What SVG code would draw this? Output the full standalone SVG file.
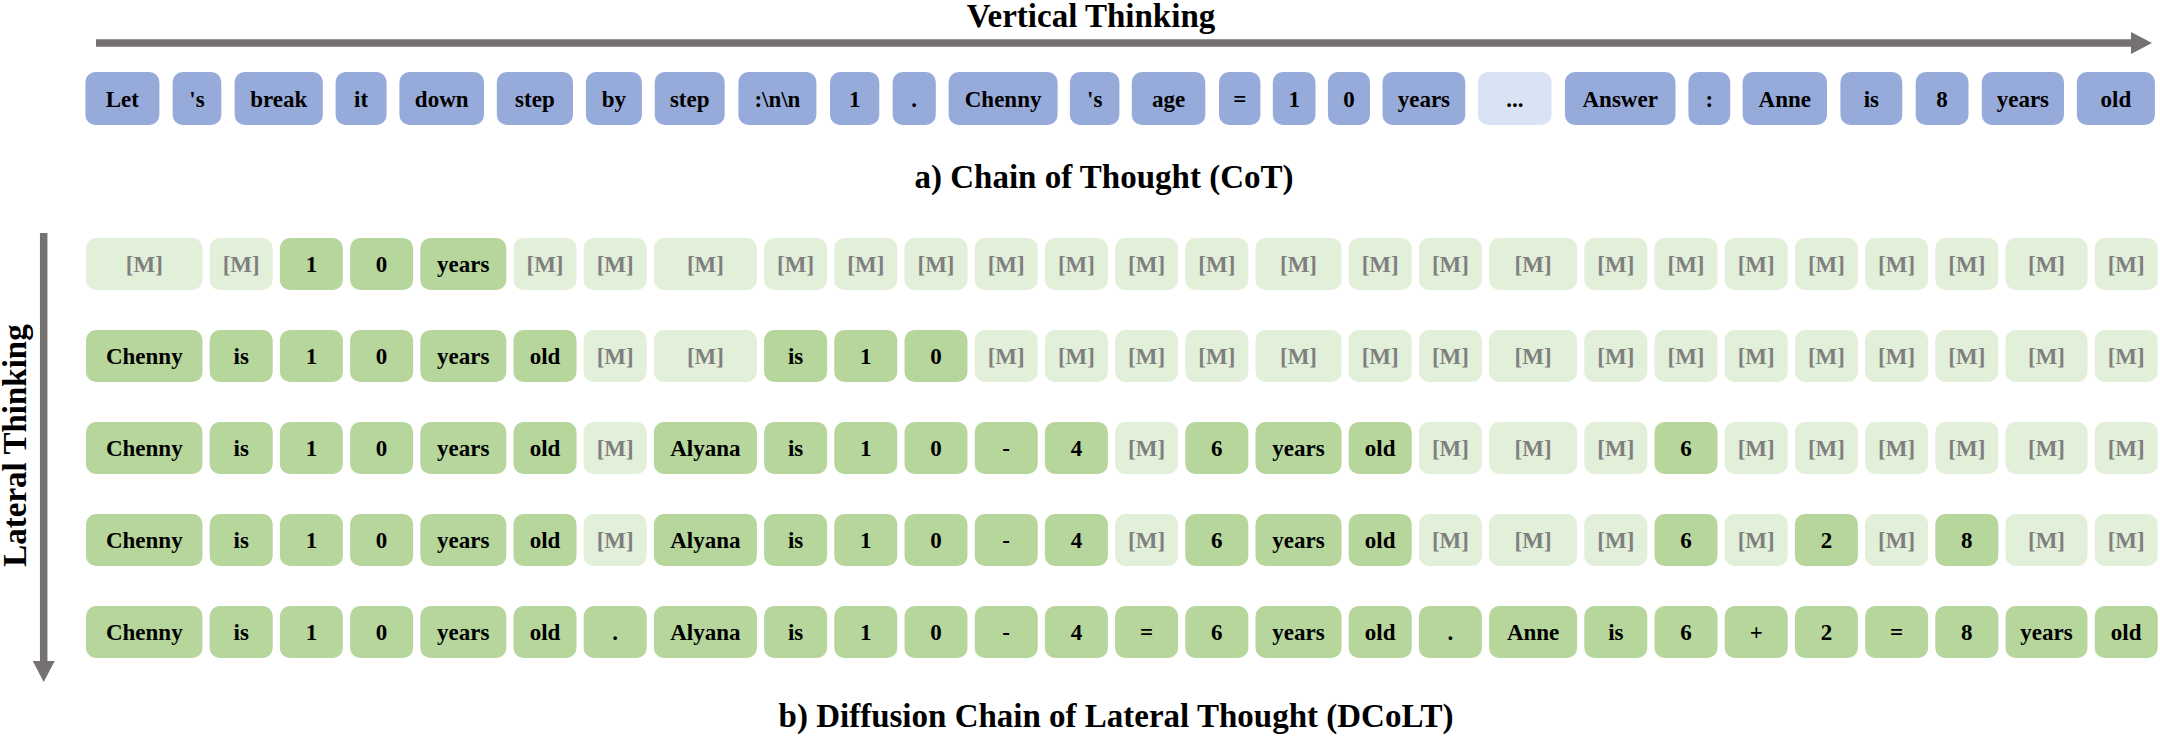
<svg xmlns="http://www.w3.org/2000/svg" width="2160" height="738" viewBox="0 0 2160 738">
<style>
text{font-family:"Liberation Serif","Times New Roman",serif;font-weight:bold;text-anchor:middle}
.tk{font-size:23px;fill:#000}
.mt{font-size:23px;fill:#7f7f7f}
.cap{font-size:33px;fill:#000}
rect{rx:10px;ry:10px}
.b{fill:#97abdb}
.bl{fill:#dae3f3}
.g{fill:#b6d69b}
.m{fill:#e2efd9}
.arr{stroke:#767171;stroke-width:7.5;fill:none}
</style>
<defs>
<marker id="ah" markerUnits="userSpaceOnUse" markerWidth="22" markerHeight="22" refX="0" refY="11" orient="auto"><path d="M0,0 L21,11 L0,22 z" fill="#767171"/></marker>
</defs>
<g id="connectors">
<line id="vertical-arrow" class="arr" x1="96" y1="43" x2="2131" y2="43" marker-end="url(#ah)"/>
<line id="lateral-arrow" class="arr" x1="43.7" y1="233" x2="43.7" y2="661" marker-end="url(#ah)"/>
</g>
<g id="labels">
<text class="cap" x="1091" y="27">Vertical Thinking</text>
<text class="cap" x="1104" y="188">a) Chain of Thought (CoT)</text>
<text class="cap" x="1116" y="727">b) Diffusion Chain of Lateral Thought (DCoLT)</text>
<text class="cap" transform="translate(26,445.5) rotate(-90)" x="0" y="0">Lateral Thinking</text>
</g>
<g id="cot">
<g id="cot0"><rect class="b" x="85.4" y="72" width="74" height="53"/><text class="tk" x="122.4" y="107">Let</text></g>
<g id="cot1"><rect class="b" x="172.6" y="72" width="48.7" height="53"/><text class="tk" x="197" y="107">'s</text></g>
<g id="cot2"><rect class="b" x="234.6" y="72" width="88.2" height="53"/><text class="tk" x="278.7" y="107">break</text></g>
<g id="cot3"><rect class="b" x="335.6" y="72" width="51" height="53"/><text class="tk" x="361.1" y="107">it</text></g>
<g id="cot4"><rect class="b" x="399.4" y="72" width="84.6" height="53"/><text class="tk" x="441.7" y="107">down</text></g>
<g id="cot5"><rect class="b" x="496.8" y="72" width="76.2" height="53"/><text class="tk" x="534.9" y="107">step</text></g>
<g id="cot6"><rect class="b" x="585.9" y="72" width="56" height="53"/><text class="tk" x="613.9" y="107">by</text></g>
<g id="cot7"><rect class="b" x="654.7" y="72" width="70" height="53"/><text class="tk" x="689.7" y="107">step</text></g>
<g id="cot8"><rect class="b" x="738.4" y="72" width="78" height="53"/><text class="tk" x="777.4" y="107">:\n\n</text></g>
<g id="cot9"><rect class="b" x="830" y="72" width="49.3" height="53"/><text class="tk" x="854.7" y="107">1</text></g>
<g id="cot10"><rect class="b" x="892.6" y="72" width="43.2" height="53"/><text class="tk" x="914.2" y="107">.</text></g>
<g id="cot11"><rect class="b" x="948.6" y="72" width="109" height="53"/><text class="tk" x="1003.1" y="107">Chenny</text></g>
<g id="cot12"><rect class="b" x="1069.9" y="72" width="49.5" height="53"/><text class="tk" x="1094.7" y="107">'s</text></g>
<g id="cot13"><rect class="b" x="1131.8" y="72" width="73.5" height="53"/><text class="tk" x="1168.6" y="107">age</text></g>
<g id="cot14"><rect class="b" x="1219" y="72" width="41.4" height="53"/><text class="tk" x="1239.7" y="107">=</text></g>
<g id="cot15"><rect class="b" x="1272.8" y="72" width="42.7" height="53"/><text class="tk" x="1294.2" y="107">1</text></g>
<g id="cot16"><rect class="b" x="1327.9" y="72" width="42.1" height="53"/><text class="tk" x="1349" y="107">0</text></g>
<g id="cot17"><rect class="b" x="1382.5" y="72" width="82.8" height="53"/><text class="tk" x="1423.9" y="107">years</text></g>
<g id="cot18"><rect class="bl" x="1478" y="72" width="73.6" height="53"/><text class="tk" x="1514.8" y="107">...</text></g>
<g id="cot19"><rect class="b" x="1564.9" y="72" width="110.6" height="53"/><text class="tk" x="1620.2" y="107">Answer</text></g>
<g id="cot20"><rect class="b" x="1688.4" y="72" width="41.8" height="53"/><text class="tk" x="1709.3" y="107">:</text></g>
<g id="cot21"><rect class="b" x="1742.6" y="72" width="84.4" height="53"/><text class="tk" x="1784.8" y="107">Anne</text></g>
<g id="cot22"><rect class="b" x="1840.4" y="72" width="61.9" height="53"/><text class="tk" x="1871.4" y="107">is</text></g>
<g id="cot23"><rect class="b" x="1915.7" y="72" width="52.8" height="53"/><text class="tk" x="1942.1" y="107">8</text></g>
<g id="cot24"><rect class="b" x="1981.8" y="72" width="82.2" height="53"/><text class="tk" x="2022.9" y="107">years</text></g>
<g id="cot25"><rect class="b" x="2076.8" y="72" width="78.1" height="53"/><text class="tk" x="2115.9" y="107">old</text></g>
</g>
<g id="dcolt-step1">
<g id="s1c0"><rect class="m" x="86" y="238" width="116.5" height="52"/><text class="mt" x="144.3" y="272">[M]</text></g>
<g id="s1c1"><rect class="m" x="209.7" y="238" width="63" height="52"/><text class="mt" x="241.2" y="272">[M]</text></g>
<g id="s1c2"><rect class="g" x="279.9" y="238" width="63" height="52"/><text class="tk" x="311.4" y="272">1</text></g>
<g id="s1c3"><rect class="g" x="350.1" y="238" width="63" height="52"/><text class="tk" x="381.6" y="272">0</text></g>
<g id="s1c4"><rect class="g" x="420.3" y="238" width="86" height="52"/><text class="tk" x="463.3" y="272">years</text></g>
<g id="s1c5"><rect class="m" x="513.5" y="238" width="63" height="52"/><text class="mt" x="545" y="272">[M]</text></g>
<g id="s1c6"><rect class="m" x="583.7" y="238" width="63" height="52"/><text class="mt" x="615.2" y="272">[M]</text></g>
<g id="s1c7"><rect class="m" x="653.9" y="238" width="103" height="52"/><text class="mt" x="705.4" y="272">[M]</text></g>
<g id="s1c8"><rect class="m" x="764.1" y="238" width="63" height="52"/><text class="mt" x="795.6" y="272">[M]</text></g>
<g id="s1c9"><rect class="m" x="834.3" y="238" width="63" height="52"/><text class="mt" x="865.8" y="272">[M]</text></g>
<g id="s1c10"><rect class="m" x="904.5" y="238" width="63" height="52"/><text class="mt" x="936" y="272">[M]</text></g>
<g id="s1c11"><rect class="m" x="974.7" y="238" width="63" height="52"/><text class="mt" x="1006.2" y="272">[M]</text></g>
<g id="s1c12"><rect class="m" x="1044.9" y="238" width="63" height="52"/><text class="mt" x="1076.4" y="272">[M]</text></g>
<g id="s1c13"><rect class="m" x="1115.1" y="238" width="63" height="52"/><text class="mt" x="1146.6" y="272">[M]</text></g>
<g id="s1c14"><rect class="m" x="1185.3" y="238" width="63" height="52"/><text class="mt" x="1216.8" y="272">[M]</text></g>
<g id="s1c15"><rect class="m" x="1255.5" y="238" width="86" height="52"/><text class="mt" x="1298.5" y="272">[M]</text></g>
<g id="s1c16"><rect class="m" x="1348.7" y="238" width="63" height="52"/><text class="mt" x="1380.2" y="272">[M]</text></g>
<g id="s1c17"><rect class="m" x="1418.9" y="238" width="63" height="52"/><text class="mt" x="1450.4" y="272">[M]</text></g>
<g id="s1c18"><rect class="m" x="1489.1" y="238" width="88" height="52"/><text class="mt" x="1533.1" y="272">[M]</text></g>
<g id="s1c19"><rect class="m" x="1584.3" y="238" width="63" height="52"/><text class="mt" x="1615.8" y="272">[M]</text></g>
<g id="s1c20"><rect class="m" x="1654.5" y="238" width="63" height="52"/><text class="mt" x="1686" y="272">[M]</text></g>
<g id="s1c21"><rect class="m" x="1724.7" y="238" width="63" height="52"/><text class="mt" x="1756.2" y="272">[M]</text></g>
<g id="s1c22"><rect class="m" x="1794.9" y="238" width="63" height="52"/><text class="mt" x="1826.4" y="272">[M]</text></g>
<g id="s1c23"><rect class="m" x="1865.1" y="238" width="63" height="52"/><text class="mt" x="1896.6" y="272">[M]</text></g>
<g id="s1c24"><rect class="m" x="1935.3" y="238" width="63" height="52"/><text class="mt" x="1966.8" y="272">[M]</text></g>
<g id="s1c25"><rect class="m" x="2005.5" y="238" width="82" height="52"/><text class="mt" x="2046.5" y="272">[M]</text></g>
<g id="s1c26"><rect class="m" x="2094.7" y="238" width="63" height="52"/><text class="mt" x="2126.2" y="272">[M]</text></g>
</g>
<g id="dcolt-step2">
<g id="s2c0"><rect class="g" x="86" y="330" width="116.5" height="52"/><text class="tk" x="144.3" y="364">Chenny</text></g>
<g id="s2c1"><rect class="g" x="209.7" y="330" width="63" height="52"/><text class="tk" x="241.2" y="364">is</text></g>
<g id="s2c2"><rect class="g" x="279.9" y="330" width="63" height="52"/><text class="tk" x="311.4" y="364">1</text></g>
<g id="s2c3"><rect class="g" x="350.1" y="330" width="63" height="52"/><text class="tk" x="381.6" y="364">0</text></g>
<g id="s2c4"><rect class="g" x="420.3" y="330" width="86" height="52"/><text class="tk" x="463.3" y="364">years</text></g>
<g id="s2c5"><rect class="g" x="513.5" y="330" width="63" height="52"/><text class="tk" x="545" y="364">old</text></g>
<g id="s2c6"><rect class="m" x="583.7" y="330" width="63" height="52"/><text class="mt" x="615.2" y="364">[M]</text></g>
<g id="s2c7"><rect class="m" x="653.9" y="330" width="103" height="52"/><text class="mt" x="705.4" y="364">[M]</text></g>
<g id="s2c8"><rect class="g" x="764.1" y="330" width="63" height="52"/><text class="tk" x="795.6" y="364">is</text></g>
<g id="s2c9"><rect class="g" x="834.3" y="330" width="63" height="52"/><text class="tk" x="865.8" y="364">1</text></g>
<g id="s2c10"><rect class="g" x="904.5" y="330" width="63" height="52"/><text class="tk" x="936" y="364">0</text></g>
<g id="s2c11"><rect class="m" x="974.7" y="330" width="63" height="52"/><text class="mt" x="1006.2" y="364">[M]</text></g>
<g id="s2c12"><rect class="m" x="1044.9" y="330" width="63" height="52"/><text class="mt" x="1076.4" y="364">[M]</text></g>
<g id="s2c13"><rect class="m" x="1115.1" y="330" width="63" height="52"/><text class="mt" x="1146.6" y="364">[M]</text></g>
<g id="s2c14"><rect class="m" x="1185.3" y="330" width="63" height="52"/><text class="mt" x="1216.8" y="364">[M]</text></g>
<g id="s2c15"><rect class="m" x="1255.5" y="330" width="86" height="52"/><text class="mt" x="1298.5" y="364">[M]</text></g>
<g id="s2c16"><rect class="m" x="1348.7" y="330" width="63" height="52"/><text class="mt" x="1380.2" y="364">[M]</text></g>
<g id="s2c17"><rect class="m" x="1418.9" y="330" width="63" height="52"/><text class="mt" x="1450.4" y="364">[M]</text></g>
<g id="s2c18"><rect class="m" x="1489.1" y="330" width="88" height="52"/><text class="mt" x="1533.1" y="364">[M]</text></g>
<g id="s2c19"><rect class="m" x="1584.3" y="330" width="63" height="52"/><text class="mt" x="1615.8" y="364">[M]</text></g>
<g id="s2c20"><rect class="m" x="1654.5" y="330" width="63" height="52"/><text class="mt" x="1686" y="364">[M]</text></g>
<g id="s2c21"><rect class="m" x="1724.7" y="330" width="63" height="52"/><text class="mt" x="1756.2" y="364">[M]</text></g>
<g id="s2c22"><rect class="m" x="1794.9" y="330" width="63" height="52"/><text class="mt" x="1826.4" y="364">[M]</text></g>
<g id="s2c23"><rect class="m" x="1865.1" y="330" width="63" height="52"/><text class="mt" x="1896.6" y="364">[M]</text></g>
<g id="s2c24"><rect class="m" x="1935.3" y="330" width="63" height="52"/><text class="mt" x="1966.8" y="364">[M]</text></g>
<g id="s2c25"><rect class="m" x="2005.5" y="330" width="82" height="52"/><text class="mt" x="2046.5" y="364">[M]</text></g>
<g id="s2c26"><rect class="m" x="2094.7" y="330" width="63" height="52"/><text class="mt" x="2126.2" y="364">[M]</text></g>
</g>
<g id="dcolt-step3">
<g id="s3c0"><rect class="g" x="86" y="422" width="116.5" height="52"/><text class="tk" x="144.3" y="456">Chenny</text></g>
<g id="s3c1"><rect class="g" x="209.7" y="422" width="63" height="52"/><text class="tk" x="241.2" y="456">is</text></g>
<g id="s3c2"><rect class="g" x="279.9" y="422" width="63" height="52"/><text class="tk" x="311.4" y="456">1</text></g>
<g id="s3c3"><rect class="g" x="350.1" y="422" width="63" height="52"/><text class="tk" x="381.6" y="456">0</text></g>
<g id="s3c4"><rect class="g" x="420.3" y="422" width="86" height="52"/><text class="tk" x="463.3" y="456">years</text></g>
<g id="s3c5"><rect class="g" x="513.5" y="422" width="63" height="52"/><text class="tk" x="545" y="456">old</text></g>
<g id="s3c6"><rect class="m" x="583.7" y="422" width="63" height="52"/><text class="mt" x="615.2" y="456">[M]</text></g>
<g id="s3c7"><rect class="g" x="653.9" y="422" width="103" height="52"/><text class="tk" x="705.4" y="456">Alyana</text></g>
<g id="s3c8"><rect class="g" x="764.1" y="422" width="63" height="52"/><text class="tk" x="795.6" y="456">is</text></g>
<g id="s3c9"><rect class="g" x="834.3" y="422" width="63" height="52"/><text class="tk" x="865.8" y="456">1</text></g>
<g id="s3c10"><rect class="g" x="904.5" y="422" width="63" height="52"/><text class="tk" x="936" y="456">0</text></g>
<g id="s3c11"><rect class="g" x="974.7" y="422" width="63" height="52"/><text class="tk" x="1006.2" y="456">-</text></g>
<g id="s3c12"><rect class="g" x="1044.9" y="422" width="63" height="52"/><text class="tk" x="1076.4" y="456">4</text></g>
<g id="s3c13"><rect class="m" x="1115.1" y="422" width="63" height="52"/><text class="mt" x="1146.6" y="456">[M]</text></g>
<g id="s3c14"><rect class="g" x="1185.3" y="422" width="63" height="52"/><text class="tk" x="1216.8" y="456">6</text></g>
<g id="s3c15"><rect class="g" x="1255.5" y="422" width="86" height="52"/><text class="tk" x="1298.5" y="456">years</text></g>
<g id="s3c16"><rect class="g" x="1348.7" y="422" width="63" height="52"/><text class="tk" x="1380.2" y="456">old</text></g>
<g id="s3c17"><rect class="m" x="1418.9" y="422" width="63" height="52"/><text class="mt" x="1450.4" y="456">[M]</text></g>
<g id="s3c18"><rect class="m" x="1489.1" y="422" width="88" height="52"/><text class="mt" x="1533.1" y="456">[M]</text></g>
<g id="s3c19"><rect class="m" x="1584.3" y="422" width="63" height="52"/><text class="mt" x="1615.8" y="456">[M]</text></g>
<g id="s3c20"><rect class="g" x="1654.5" y="422" width="63" height="52"/><text class="tk" x="1686" y="456">6</text></g>
<g id="s3c21"><rect class="m" x="1724.7" y="422" width="63" height="52"/><text class="mt" x="1756.2" y="456">[M]</text></g>
<g id="s3c22"><rect class="m" x="1794.9" y="422" width="63" height="52"/><text class="mt" x="1826.4" y="456">[M]</text></g>
<g id="s3c23"><rect class="m" x="1865.1" y="422" width="63" height="52"/><text class="mt" x="1896.6" y="456">[M]</text></g>
<g id="s3c24"><rect class="m" x="1935.3" y="422" width="63" height="52"/><text class="mt" x="1966.8" y="456">[M]</text></g>
<g id="s3c25"><rect class="m" x="2005.5" y="422" width="82" height="52"/><text class="mt" x="2046.5" y="456">[M]</text></g>
<g id="s3c26"><rect class="m" x="2094.7" y="422" width="63" height="52"/><text class="mt" x="2126.2" y="456">[M]</text></g>
</g>
<g id="dcolt-step4">
<g id="s4c0"><rect class="g" x="86" y="514" width="116.5" height="52"/><text class="tk" x="144.3" y="548">Chenny</text></g>
<g id="s4c1"><rect class="g" x="209.7" y="514" width="63" height="52"/><text class="tk" x="241.2" y="548">is</text></g>
<g id="s4c2"><rect class="g" x="279.9" y="514" width="63" height="52"/><text class="tk" x="311.4" y="548">1</text></g>
<g id="s4c3"><rect class="g" x="350.1" y="514" width="63" height="52"/><text class="tk" x="381.6" y="548">0</text></g>
<g id="s4c4"><rect class="g" x="420.3" y="514" width="86" height="52"/><text class="tk" x="463.3" y="548">years</text></g>
<g id="s4c5"><rect class="g" x="513.5" y="514" width="63" height="52"/><text class="tk" x="545" y="548">old</text></g>
<g id="s4c6"><rect class="m" x="583.7" y="514" width="63" height="52"/><text class="mt" x="615.2" y="548">[M]</text></g>
<g id="s4c7"><rect class="g" x="653.9" y="514" width="103" height="52"/><text class="tk" x="705.4" y="548">Alyana</text></g>
<g id="s4c8"><rect class="g" x="764.1" y="514" width="63" height="52"/><text class="tk" x="795.6" y="548">is</text></g>
<g id="s4c9"><rect class="g" x="834.3" y="514" width="63" height="52"/><text class="tk" x="865.8" y="548">1</text></g>
<g id="s4c10"><rect class="g" x="904.5" y="514" width="63" height="52"/><text class="tk" x="936" y="548">0</text></g>
<g id="s4c11"><rect class="g" x="974.7" y="514" width="63" height="52"/><text class="tk" x="1006.2" y="548">-</text></g>
<g id="s4c12"><rect class="g" x="1044.9" y="514" width="63" height="52"/><text class="tk" x="1076.4" y="548">4</text></g>
<g id="s4c13"><rect class="m" x="1115.1" y="514" width="63" height="52"/><text class="mt" x="1146.6" y="548">[M]</text></g>
<g id="s4c14"><rect class="g" x="1185.3" y="514" width="63" height="52"/><text class="tk" x="1216.8" y="548">6</text></g>
<g id="s4c15"><rect class="g" x="1255.5" y="514" width="86" height="52"/><text class="tk" x="1298.5" y="548">years</text></g>
<g id="s4c16"><rect class="g" x="1348.7" y="514" width="63" height="52"/><text class="tk" x="1380.2" y="548">old</text></g>
<g id="s4c17"><rect class="m" x="1418.9" y="514" width="63" height="52"/><text class="mt" x="1450.4" y="548">[M]</text></g>
<g id="s4c18"><rect class="m" x="1489.1" y="514" width="88" height="52"/><text class="mt" x="1533.1" y="548">[M]</text></g>
<g id="s4c19"><rect class="m" x="1584.3" y="514" width="63" height="52"/><text class="mt" x="1615.8" y="548">[M]</text></g>
<g id="s4c20"><rect class="g" x="1654.5" y="514" width="63" height="52"/><text class="tk" x="1686" y="548">6</text></g>
<g id="s4c21"><rect class="m" x="1724.7" y="514" width="63" height="52"/><text class="mt" x="1756.2" y="548">[M]</text></g>
<g id="s4c22"><rect class="g" x="1794.9" y="514" width="63" height="52"/><text class="tk" x="1826.4" y="548">2</text></g>
<g id="s4c23"><rect class="m" x="1865.1" y="514" width="63" height="52"/><text class="mt" x="1896.6" y="548">[M]</text></g>
<g id="s4c24"><rect class="g" x="1935.3" y="514" width="63" height="52"/><text class="tk" x="1966.8" y="548">8</text></g>
<g id="s4c25"><rect class="m" x="2005.5" y="514" width="82" height="52"/><text class="mt" x="2046.5" y="548">[M]</text></g>
<g id="s4c26"><rect class="m" x="2094.7" y="514" width="63" height="52"/><text class="mt" x="2126.2" y="548">[M]</text></g>
</g>
<g id="dcolt-step5">
<g id="s5c0"><rect class="g" x="86" y="606" width="116.5" height="52"/><text class="tk" x="144.3" y="640">Chenny</text></g>
<g id="s5c1"><rect class="g" x="209.7" y="606" width="63" height="52"/><text class="tk" x="241.2" y="640">is</text></g>
<g id="s5c2"><rect class="g" x="279.9" y="606" width="63" height="52"/><text class="tk" x="311.4" y="640">1</text></g>
<g id="s5c3"><rect class="g" x="350.1" y="606" width="63" height="52"/><text class="tk" x="381.6" y="640">0</text></g>
<g id="s5c4"><rect class="g" x="420.3" y="606" width="86" height="52"/><text class="tk" x="463.3" y="640">years</text></g>
<g id="s5c5"><rect class="g" x="513.5" y="606" width="63" height="52"/><text class="tk" x="545" y="640">old</text></g>
<g id="s5c6"><rect class="g" x="583.7" y="606" width="63" height="52"/><text class="tk" x="615.2" y="640">.</text></g>
<g id="s5c7"><rect class="g" x="653.9" y="606" width="103" height="52"/><text class="tk" x="705.4" y="640">Alyana</text></g>
<g id="s5c8"><rect class="g" x="764.1" y="606" width="63" height="52"/><text class="tk" x="795.6" y="640">is</text></g>
<g id="s5c9"><rect class="g" x="834.3" y="606" width="63" height="52"/><text class="tk" x="865.8" y="640">1</text></g>
<g id="s5c10"><rect class="g" x="904.5" y="606" width="63" height="52"/><text class="tk" x="936" y="640">0</text></g>
<g id="s5c11"><rect class="g" x="974.7" y="606" width="63" height="52"/><text class="tk" x="1006.2" y="640">-</text></g>
<g id="s5c12"><rect class="g" x="1044.9" y="606" width="63" height="52"/><text class="tk" x="1076.4" y="640">4</text></g>
<g id="s5c13"><rect class="g" x="1115.1" y="606" width="63" height="52"/><text class="tk" x="1146.6" y="640">=</text></g>
<g id="s5c14"><rect class="g" x="1185.3" y="606" width="63" height="52"/><text class="tk" x="1216.8" y="640">6</text></g>
<g id="s5c15"><rect class="g" x="1255.5" y="606" width="86" height="52"/><text class="tk" x="1298.5" y="640">years</text></g>
<g id="s5c16"><rect class="g" x="1348.7" y="606" width="63" height="52"/><text class="tk" x="1380.2" y="640">old</text></g>
<g id="s5c17"><rect class="g" x="1418.9" y="606" width="63" height="52"/><text class="tk" x="1450.4" y="640">.</text></g>
<g id="s5c18"><rect class="g" x="1489.1" y="606" width="88" height="52"/><text class="tk" x="1533.1" y="640">Anne</text></g>
<g id="s5c19"><rect class="g" x="1584.3" y="606" width="63" height="52"/><text class="tk" x="1615.8" y="640">is</text></g>
<g id="s5c20"><rect class="g" x="1654.5" y="606" width="63" height="52"/><text class="tk" x="1686" y="640">6</text></g>
<g id="s5c21"><rect class="g" x="1724.7" y="606" width="63" height="52"/><text class="tk" x="1756.2" y="640">+</text></g>
<g id="s5c22"><rect class="g" x="1794.9" y="606" width="63" height="52"/><text class="tk" x="1826.4" y="640">2</text></g>
<g id="s5c23"><rect class="g" x="1865.1" y="606" width="63" height="52"/><text class="tk" x="1896.6" y="640">=</text></g>
<g id="s5c24"><rect class="g" x="1935.3" y="606" width="63" height="52"/><text class="tk" x="1966.8" y="640">8</text></g>
<g id="s5c25"><rect class="g" x="2005.5" y="606" width="82" height="52"/><text class="tk" x="2046.5" y="640">years</text></g>
<g id="s5c26"><rect class="g" x="2094.7" y="606" width="63" height="52"/><text class="tk" x="2126.2" y="640">old</text></g>
</g>
</svg>
